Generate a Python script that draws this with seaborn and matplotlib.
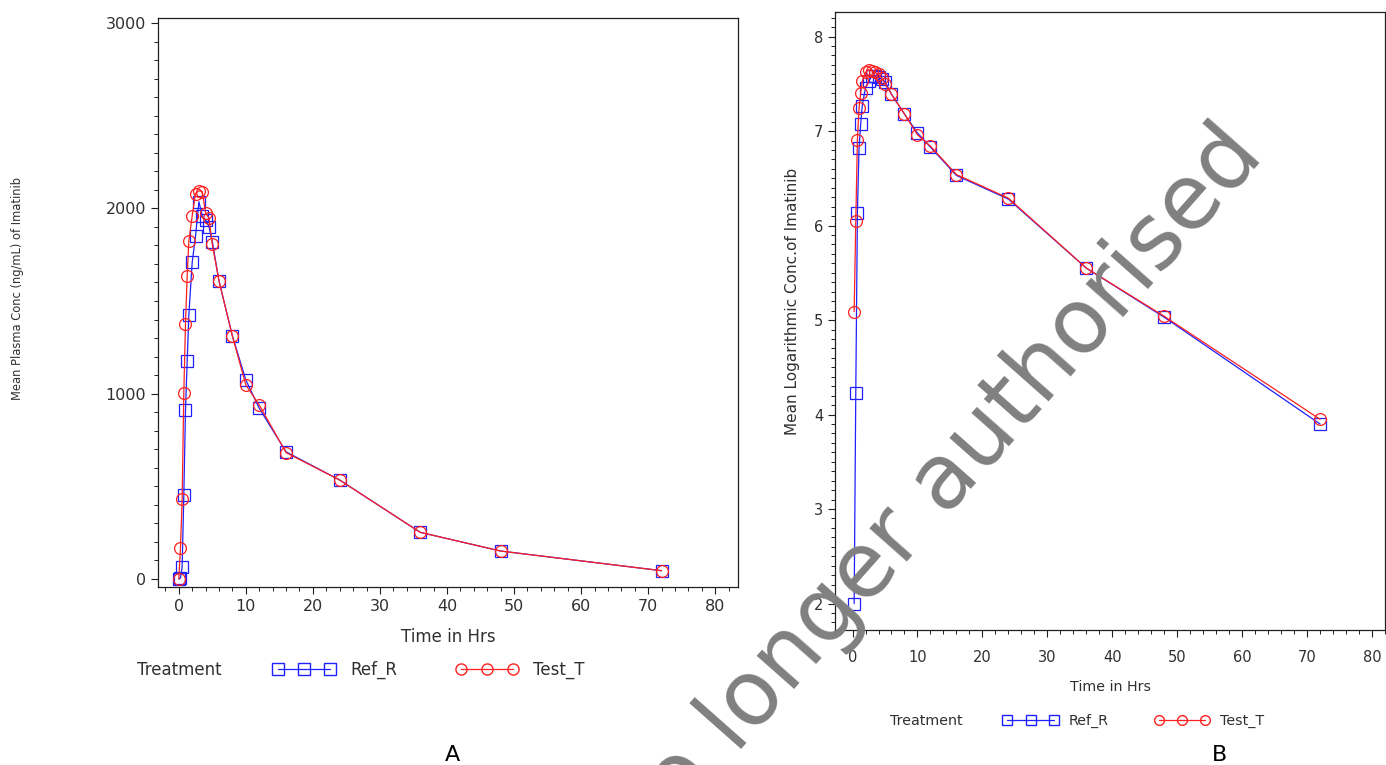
import numpy as np
import pandas as pd
import matplotlib
matplotlib.use("Agg")
import matplotlib.pyplot as plt
from matplotlib.ticker import MultipleLocator
import seaborn as sns

# ==========================================================
# Data (mean PK profiles of imatinib)
# ==========================================================

TIME_A = [0, 0.25, 0.5, 0.75, 1, 1.25, 1.5, 2, 2.5, 3, 3.5, 4, 4.5, 5, 6, 8,
          10, 12, 16, 24, 36, 48, 72]
REF_CONC = [0, 5, 66, 453, 912, 1176, 1425, 1709, 1851, 2036, 1960, 1937,
            1901, 1820, 1608, 1311, 1074, 921, 686, 534, 252, 151, 45]
TEST_CONC = [0, 165, 430, 1004, 1376, 1637, 1824, 1960, 2080, 2095, 2090,
             1975, 1948, 1805, 1608, 1310, 1047, 939, 682, 534, 252, 151, 45]

TIME_B = [0.25, 0.5, 0.75, 1, 1.25, 1.5, 2, 2.5, 3, 3.5, 4, 4.5, 5, 6, 8,
          10, 12, 16, 24, 36, 48, 72]
REF_LOG = [2.0, 4.23, 6.13, 6.82, 7.07, 7.27, 7.46, 7.53, 7.58, 7.58, 7.57,
           7.55, 7.52, 7.39, 7.18, 6.98, 6.83, 6.53, 6.28, 5.55, 5.03, 3.90]
TEST_LOG = [5.09, 6.05, 6.91, 7.24, 7.40, 7.53, 7.62, 7.65, 7.64, 7.62, 7.60,
            7.56, 7.50, 7.39, 7.18, 6.96, 6.84, 6.54, 6.29, 5.55, 5.04, 3.95]

TREATMENTS = ["Ref_R", "Test_T"]
COLORS = {"Ref_R": "#1f1fff", "Test_T": "#ff1f1f"}
MARKERS = {"Ref_R": "s", "Test_T": "o"}

TEXT = "#303030"
W, H = 1386, 765


def long_frame(times, ref, test, name):
    df_r = pd.DataFrame({"Time": times, name: ref, "Treatment": "Ref_R"})
    df_t = pd.DataFrame({"Time": times, name: test, "Treatment": "Test_T"})
    return pd.concat([df_r, df_t], ignore_index=True)


def draw_panel(ax, df, yname, xpad, fsize):
    sns.lineplot(data=df, x="Time", y=yname, hue="Treatment",
                 style="Treatment", palette=COLORS, markers=MARKERS,
                 dashes=False, legend=False, ax=ax, linewidth=0.9,
                 markersize=8.5, markeredgewidth=0.9, sort=False)
    for line in ax.lines:
        c = line.get_color()
        line.set_markerfacecolor("none")
        line.set_markeredgecolor(c)

    for s in ax.spines.values():
        s.set_visible(True)
        s.set_color("#202020")
        s.set_linewidth(0.9)
    ax.tick_params(axis="both", which="major", direction="out", length=5,
                   width=0.8, colors="#202020", labelcolor=TEXT,
                   labelsize=fsize)
    ax.tick_params(axis="both", which="minor", direction="out", length=3,
                   width=0.7, colors="#202020")
    ax.tick_params(axis="x", which="major", pad=xpad)
    ax.tick_params(top=False, right=False, which="both")
    ax.xaxis.set_major_locator(MultipleLocator(10))
    ax.xaxis.set_minor_locator(MultipleLocator(2))
    ax.grid(False)


def add_legend(fig, x_title, x_handles, y, fsize, msize, hlen, tpad, cspace):
    fig.text(x_title / W, 1 - y / H, "Treatment", fontsize=fsize, color=TEXT,
             va="center", ha="left")
    handles = []
    for t in TREATMENTS:
        h, = plt.plot([], [], color=COLORS[t], marker=MARKERS[t],
                      markerfacecolor="none", markeredgecolor=COLORS[t],
                      markersize=msize, linewidth=0.9)
        handles.append(h)
    fig.legend(handles, TREATMENTS, loc="center left",
               bbox_to_anchor=(x_handles / W, 1 - y / H), ncol=2,
               numpoints=3, handlelength=hlen, handletextpad=tpad,
               columnspacing=cspace, frameon=False, borderpad=0,
               fontsize=fsize, labelcolor=TEXT)


def main():
    sns.set_style("ticks")
    plt.rcParams["font.family"] = ["DejaVu Sans"]

    fig = plt.figure(figsize=(W / 100, H / 100), dpi=100)
    fig.patch.set_facecolor("white")

    # panel A
    ax_a = fig.add_axes([158 / W, 1 - 587 / H, (738 - 158) / W, (587 - 18) / H])
    draw_panel(ax_a, long_frame(TIME_A, REF_CONC, TEST_CONC, "Conc"), "Conc",
               3.5, 11.5)
    ax_a.set_xlim(-3.1, 83.4)
    ax_a.set_ylim(-43, 3027)
    ax_a.yaxis.set_major_locator(MultipleLocator(1000))
    ax_a.yaxis.set_minor_locator(MultipleLocator(100))
    ax_a.set_xlabel("Time in Hrs", fontsize=12, color=TEXT, labelpad=10)
    ax_a.set_ylabel("")
    fig.text(18 / W, 1 - 288 / H, "Mean Plasma Conc (ng/mL) of Imatinib",
             rotation=90, fontsize=8.3, color=TEXT, ha="center", va="center")

    # panel B
    ax_b = fig.add_axes([835 / W, 1 - 630 / H, (1385 - 835) / W, (630 - 12) / H])
    draw_panel(ax_b, long_frame(TIME_B, REF_LOG, TEST_LOG, "LogConc"),
               "LogConc", 9.5, 10.5)
    ax_b.set_xlim(-2.7, 82)
    ax_b.set_ylim(1.72, 8.26)
    ax_b.yaxis.set_major_locator(MultipleLocator(1))
    ax_b.yaxis.set_minor_locator(MultipleLocator(0.1))
    ax_b.set_xlabel("Time in Hrs", fontsize=10.3, color=TEXT, labelpad=11)
    ax_b.set_ylabel("")
    fig.text(793 / W, 1 - 301 / H, "Mean Logarithmic Conc.of Imatinib",
             rotation=90, fontsize=11, color=TEXT, ha="center", va="center")

    add_legend(fig, 137, 265, 670, 12, 8, 3.72, 0.9, 3.5)
    add_legend(fig, 890, 996, 721, 10.3, 7, 3.83, 0.72, 3.25)

    fig.text(452 / W, 1 - 745 / H, "A", fontsize=16, color="black",
             ha="center", va="top")
    fig.text(1220 / W, 1 - 745 / H, "B", fontsize=16, color="black",
             ha="center", va="top")

    # watermark
    fig.text(932 / W, 1 - 496 / H, "No longer authorised", fontsize=65,
             color="#808080", rotation=48.5, ha="center", va="center",
             rotation_mode="anchor", zorder=10)

    fig.savefig("out.png", dpi=100, facecolor="white")
    plt.close(fig)


if __name__ == "__main__":
    main()
